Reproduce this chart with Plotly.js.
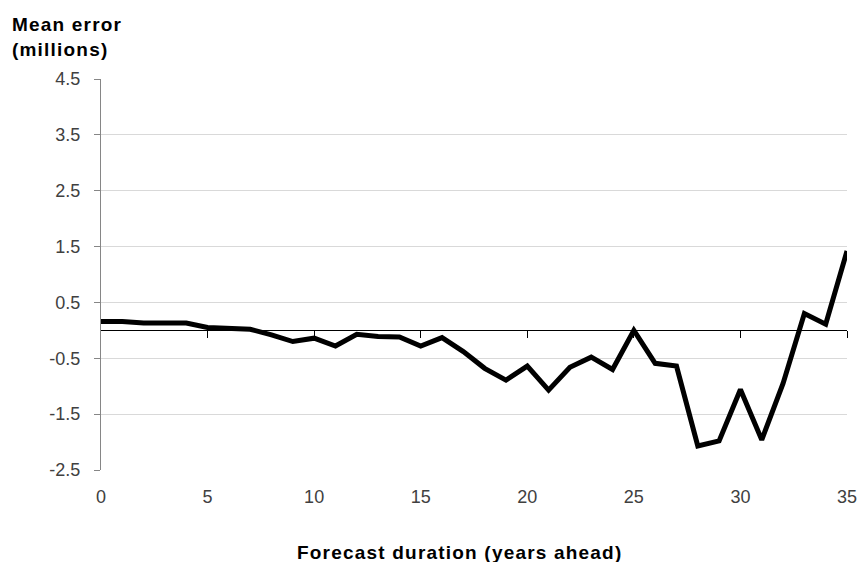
<!DOCTYPE html>
<html>
<head>
<meta charset="utf-8">
<script src="https://cdn.plot.ly/plotly-3.0.1.min.js"></script>
<style>
  html, body { margin: 0; padding: 0; background: #fff; }
  #chart { width: 859px; height: 562px; }
  .annotation-text { letter-spacing: 1.2px; }
</style>
</head>
<body>
<div id="chart"></div>
<script>
// ---- data ----
const forecastYears = [0,1,2,3,4,5,6,7,8,9,10,11,12,13,14,15,16,17,18,19,20,21,22,23,24,25,26,27,28,29,30,31,32,33,34,35];
const meanError = [0.16,0.16,0.13,0.13,0.13,0.05,0.04,0.02,-0.08,-0.20,-0.14,-0.28,-0.07,-0.11,-0.12,-0.28,-0.13,-0.38,-0.68,-0.89,-0.64,-1.07,-0.66,-0.48,-0.70,0.0,-0.59,-0.64,-2.07,-1.98,-1.06,-1.96,-0.95,0.30,0.11,1.42];
const xTickVals = [0,5,10,15,20,25,30,35];
const yTickVals = [-2.5,-1.5,-0.5,0.5,1.5,2.5,3.5,4.5];
const yTickText = ["-2.5","-1.5","-0.5","0.5","1.5","2.5","3.5","4.5"];
const yTitle = "Mean error<br>(millions)";
const xTitle = "Forecast duration (years ahead)";

const tickFont = {family: "Liberation Sans, Arial, sans-serif", size: 18, color: "#404040"};
const titleFont = {family: "Liberation Sans, Arial, sans-serif", size: 19, color: "#000", weight: 700};

const yMin = -2.5, yMax = 4.5;

// visible series, drawn on the overlay axis that sits at y = 0
const trace = {
  x: forecastYears,
  y: meanError,
  xaxis: "x2",
  yaxis: "y",
  type: "scatter",
  mode: "lines",
  line: {color: "#000", width: 5},
  hoverinfo: "skip",
  showlegend: false
};
// same series, invisible, only so the bottom (label) axis exists
const labelTrace = {
  x: forecastYears,
  y: meanError,
  xaxis: "x",
  yaxis: "y",
  type: "scatter",
  mode: "lines",
  opacity: 0,
  line: {color: "#000", width: 0},
  hoverinfo: "skip",
  showlegend: false
};

const layout = {
  width: 859,
  height: 562,
  margin: {l: 101, r: 12, t: 79, b: 92},
  paper_bgcolor: "#fff",
  plot_bgcolor: "#fff",
  showlegend: false,
  xaxis: {
    range: [0, 35],
    tickvals: xTickVals,
    ticks: "",
    showline: false,
    showgrid: false,
    zeroline: false,
    tickfont: tickFont,
    ticklabelstandoff: 14,
    fixedrange: true
  },
  xaxis2: {
    overlaying: "x",
    anchor: "free",
    position: (0 - yMin) / (yMax - yMin),
    range: [0, 35],
    tickvals: xTickVals.slice(1),
    ticks: "outside",
    ticklen: 7,
    tickwidth: 1,
    tickcolor: "#000",
    showticklabels: false,
    showline: true,
    linecolor: "#000",
    linewidth: 1,
    showgrid: false,
    zeroline: false,
    fixedrange: true
  },
  yaxis: {
    range: [yMin, yMax],
    tickvals: yTickVals,
    ticktext: yTickText,
    ticks: "outside",
    ticklen: 6,
    tickwidth: 1,
    tickcolor: "#868686",
    showline: true,
    linecolor: "#868686",
    linewidth: 1,
    showgrid: true,
    gridcolor: "#d9d9d9",
    gridwidth: 1,
    zeroline: false,
    tickfont: tickFont,
    ticklabelstandoff: 10,
    fixedrange: true
  },
  annotations: [
    {
      text: "<b>" + yTitle.split("<br>").join("</b><br><b>") + "</b>",
      xref: "paper", yref: "paper",
      x: (10 - 101) / 746, y: (470 - 12) / 391,
      xanchor: "left", yanchor: "top", align: "left",
      showarrow: false,
      font: titleFont
    },
    {
      text: "<b>" + xTitle + "</b>",
      xref: "paper", yref: "paper",
      x: (459 - 101) / 746, y: (470 - 540) / 391,
      xanchor: "center", yanchor: "top",
      showarrow: false,
      font: titleFont
    }
  ]
};

Plotly.newPlot("chart", [labelTrace, trace], layout, {staticPlot: true, displayModeBar: false});
</script>
</body>
</html>
